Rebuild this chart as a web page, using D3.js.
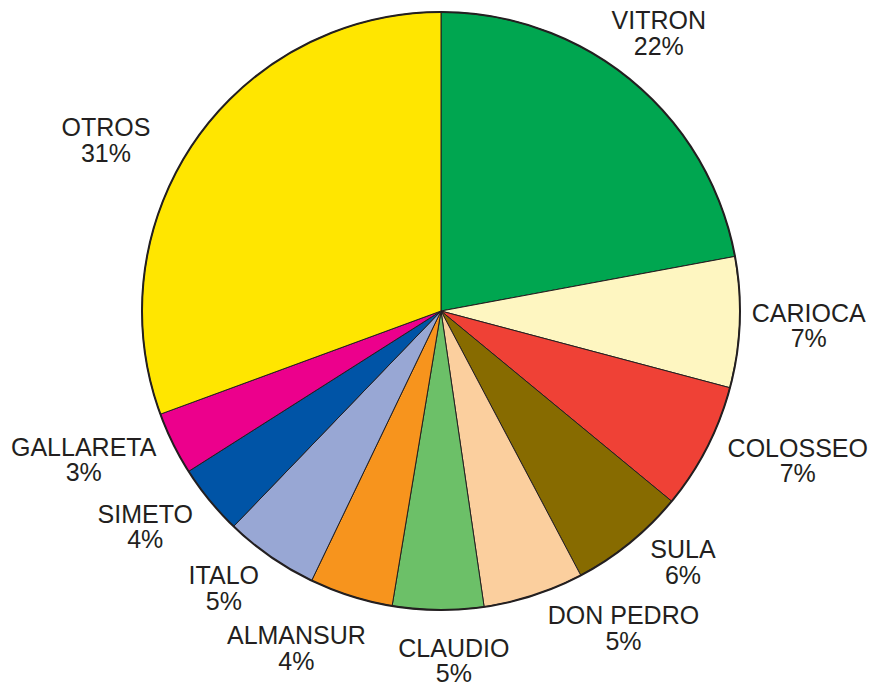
<!DOCTYPE html>
<html>
<head>
<meta charset="utf-8">
<script src="https://cdn.jsdelivr.net/npm/d3@7"></script>
<style>
  html, body { margin: 0; padding: 0; background: #ffffff; }
  svg { display: block; }
</style>
</head>
<body>
<svg id="chart" width="874" height="686"></svg>
<script>
// Market share by brand (percent), clockwise from 12 o'clock
const brands = ["VITRON", "CARIOCA", "COLOSSEO", "SULA", "DON PEDRO", "CLAUDIO",
                "ALMANSUR", "ITALO", "SIMETO", "GALLARETA", "OTROS"];
const shares = [22.0, 7.03, 6.82, 6.26, 5.42, 4.9, 4.49, 5.06, 3.78, 3.39, 30.5];
const sliceColors = ["#00a650", "#fef6c1", "#ef4136", "#876b00", "#fbcf9e", "#6cc068",
                     "#f7941d", "#98a7d4", "#0054a6", "#ec008c", "#ffe600"];

// Label placement around the pie: angle (degrees clockwise from top) and distance from centre
const labelAngle  = [38.1, 92.3, 112.8, 136.1, 150.1, 177.9, 203.2, 218.1, 233.9, 247.4, 297.0];
const labelRadius = [353, 368, 387, 349, 366, 350, 367, 352, 366, 387, 376];

const width = 874, height = 686;
const cx = 441, cy = 311, radius = 299;
const ink = "#231f20";

const svg = d3.select("#chart");
const g = svg.append("g").attr("transform", `translate(${cx},${cy})`);

const rows = brands.map((b, i) => ({ brand: b, value: shares[i], color: sliceColors[i], i }));

const pie = d3.pie().sort(null).value(d => d.value);
const arc = d3.arc().innerRadius(0).outerRadius(radius);

const arcs = pie(rows);

g.selectAll("path.slice")
  .data(arcs)
  .join("path")
  .attr("class", "slice")
  .attr("d", arc)
  .attr("fill", d => d.data.color)
  .attr("stroke", ink)
  .attr("stroke-width", 1)
  .attr("stroke-linejoin", "round");

// outer rim
g.append("circle")
  .attr("r", radius)
  .attr("fill", "none")
  .attr("stroke", ink)
  .attr("stroke-width", 2);

// two-line labels: brand name and rounded share
const labels = g.selectAll("g.label")
  .data(arcs)
  .join("g")
  .attr("class", "label")
  .attr("transform", d => {
    const a = labelAngle[d.data.i] * Math.PI / 180;
    const r = labelRadius[d.data.i];
    return `translate(${r * Math.sin(a)},${-r * Math.cos(a)})`;
  });

labels.append("text")
  .attr("text-anchor", "middle")
  .attr("y", -4)
  .attr("font-family", "'Liberation Sans', Arial, Helvetica, sans-serif")
  .attr("font-size", 25)
  .attr("fill", ink)
  .text(d => d.data.brand);

labels.append("text")
  .attr("text-anchor", "middle")
  .attr("y", 21.5)
  .attr("font-family", "'Liberation Sans', Arial, Helvetica, sans-serif")
  .attr("font-size", 25)
  .attr("fill", ink)
  .text(d => Math.round(d.data.value) + "%");
</script>
</body>
</html>
